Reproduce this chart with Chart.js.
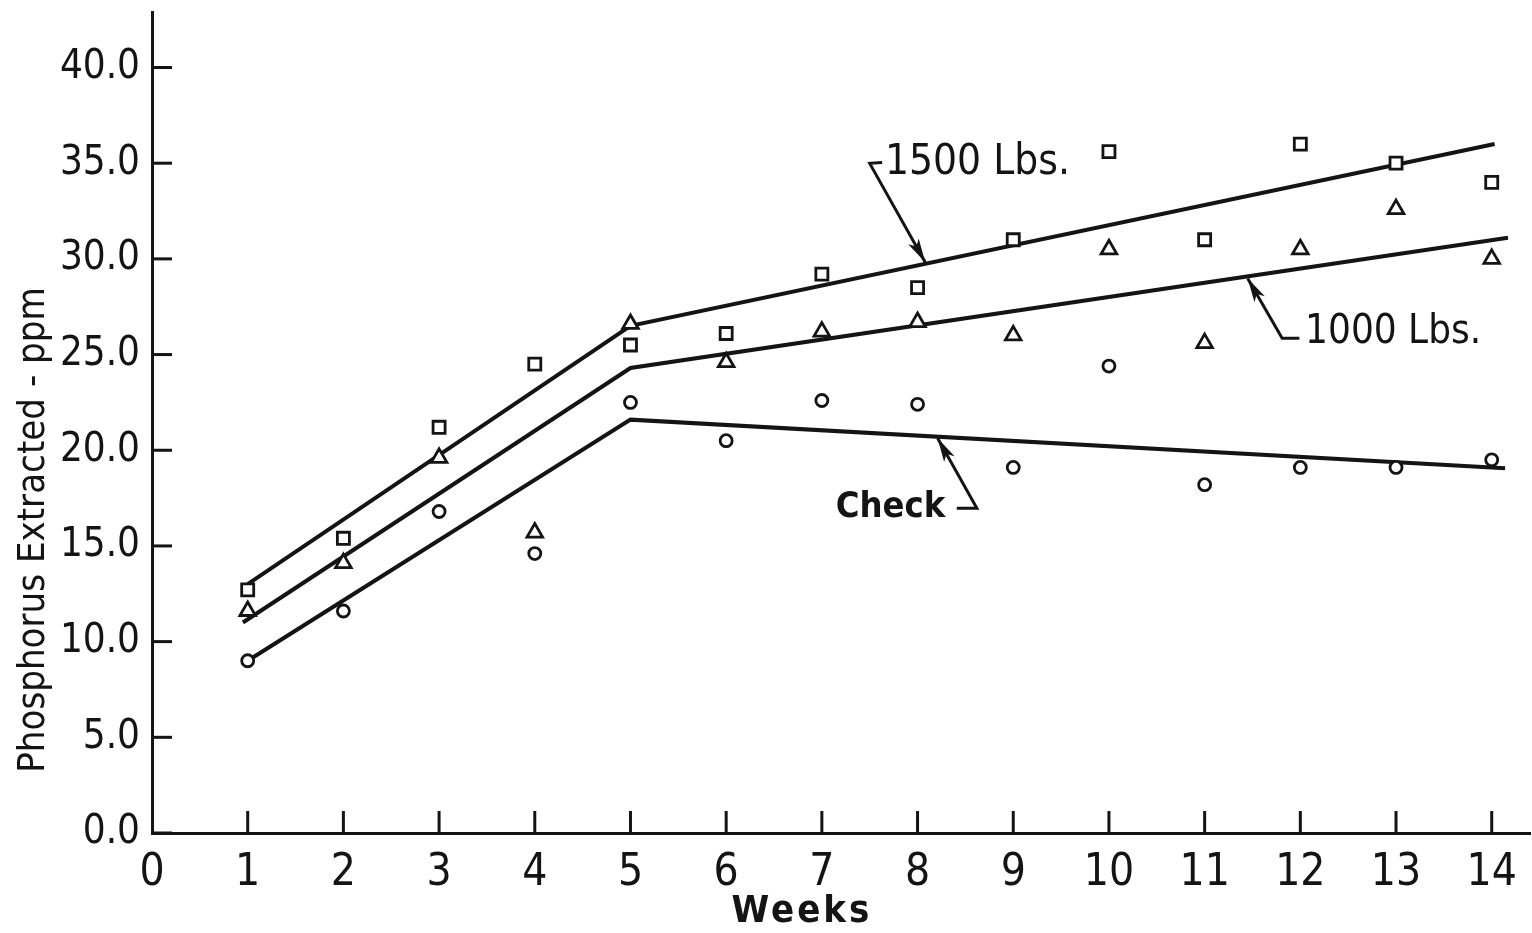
<!DOCTYPE html>
<html>
<head>
<meta charset="utf-8">
<script src="https://cdn.jsdelivr.net/npm/chart.js@4/dist/chart.umd.min.js"></script>
<style>
  html, body { margin: 0; padding: 0; background: #fff; }
  #wrap { width: 1532px; height: 933px; }
</style>
</head>
<body>
<div id="wrap"><canvas id="chart" width="1532" height="933"></canvas></div>
<script>
// observed values (ppm) per week
const weeks = [1, 2, 3, 4, 5, 6, 7, 8, 9, 10, 11, 12, 13, 14];
const lbs1500 = [12.7, 15.4, 21.2, 24.5, 25.5, 26.1, 29.2, 28.5, 31.0, 35.6, 31.0, 36.0, 35.0, 34.0];
const lbs1000 = [11.6, 14.1, 19.6, 15.7, 26.6, 24.6, 26.2, 26.7, 26.0, 30.5, 25.6, 30.5, 32.6, 30.0];
const check = [9.0, 11.6, 16.8, 14.6, 22.5, 20.5, 22.6, 22.4, 19.1, 24.4, 18.2, 19.1, 19.1, 19.5];

// fitted broken lines (start, break at week 5, end)
const fit1500Weeks = [1, 5, 14.03];
const fit1500 = [13.0, 26.5, 36.0];
const fit1000Weeks = [0.95, 5, 14.17];
const fit1000 = [11.0, 24.3, 31.1];
const fitCheckWeeks = [1, 5, 14.14];
const fitCheck = [9.0, 21.6, 19.06];

const yTicks = [0, 5, 10, 15, 20, 25, 30, 35, 40];
const xTicks = [0, 1, 2, 3, 4, 5, 6, 7, 8, 9, 10, 11, 12, 13, 14];

const FONT = '"DejaVu Sans Condensed", "Liberation Sans Narrow", "DejaVu Sans", sans-serif';
const INK = '#141414';

function pts(xs, ys) {
  return xs.map((w, i) => ({ x: w, y: ys[i] }));
}

function markerSet(label, ys, shape, r) {
  return {
    type: 'scatter', label: label, data: pts(weeks, ys),
    pointStyle: shape, pointRadius: r, pointBorderWidth: 2.8,
    pointBackgroundColor: '#fff', pointBorderColor: INK, order: 0
  };
}

function fitSet(label, xs, ys) {
  return {
    type: 'line', label: label, data: pts(xs, ys),
    borderColor: INK, borderWidth: 4, pointRadius: 0, tension: 0, order: 1
  };
}

// leader labels with arrows, in data units
const notes = [
  { text: '1500 Lbs.', at: [7.66, 35.0], align: 'left', size: 42,
    path: [[7.63, 35.04], [7.5, 34.99], [8.08, 29.82]] },
  { text: '1000 Lbs.', at: [12.05, 26.16], align: 'left', size: 40,
    path: [[11.99, 25.85], [11.81, 25.85], [11.45, 28.98]] },
  { text: 'Check', at: [8.29, 17.02], align: 'right', size: 36, bold: true,
    path: [[8.41, 16.97], [8.62, 16.97], [8.21, 20.63]] }
];

const inkPlugin = {
  id: 'ink',
  afterDatasetsDraw(chart) {
    const { ctx, scales: { x, y } } = chart;
    ctx.save();
    ctx.strokeStyle = INK;
    ctx.fillStyle = INK;
    ctx.lineWidth = 3;
    ctx.lineCap = 'butt';

    // inward tick marks
    yTicks.forEach(v => {
      const py = y.getPixelForValue(v);
      ctx.beginPath(); ctx.moveTo(x.left, py); ctx.lineTo(x.left + 20, py); ctx.stroke();
    });
    xTicks.slice(1).forEach(v => {
      const px = x.getPixelForValue(v);
      ctx.beginPath(); ctx.moveTo(px, y.bottom); ctx.lineTo(px, y.bottom - 22); ctx.stroke();
    });

    // annotations
    notes.forEach(n => {
      ctx.font = (n.bold ? 'bold ' : '') + n.size + 'px ' + FONT;
      ctx.textAlign = n.align;
      ctx.textBaseline = 'middle';
      ctx.fillText(n.text, x.getPixelForValue(n.at[0]), y.getPixelForValue(n.at[1]));

      const p = n.path.map(q => [x.getPixelForValue(q[0]), y.getPixelForValue(q[1])]);
      ctx.lineWidth = 3;
      ctx.beginPath();
      ctx.moveTo(p[0][0], p[0][1]);
      for (let i = 1; i < p.length; i++) ctx.lineTo(p[i][0], p[i][1]);
      ctx.stroke();

      const a = p[p.length - 2], b = p[p.length - 1];
      const ang = Math.atan2(b[1] - a[1], b[0] - a[0]);
      const len = 24, half = 6;
      ctx.beginPath();
      ctx.moveTo(b[0], b[1]);
      ctx.lineTo(b[0] - len * Math.cos(ang) + half * Math.sin(ang), b[1] - len * Math.sin(ang) - half * Math.cos(ang));
      ctx.lineTo(b[0] - len * 0.75 * Math.cos(ang), b[1] - len * 0.75 * Math.sin(ang));
      ctx.lineTo(b[0] - len * Math.cos(ang) - half * Math.sin(ang), b[1] - len * Math.sin(ang) + half * Math.cos(ang));
      ctx.closePath();
      ctx.fill();
    });

    // axis titles
    ctx.font = 'bold 38px ' + FONT;
    ctx.textAlign = 'center';
    ctx.textBaseline = 'middle';
    ctx.letterSpacing = '3px';
    ctx.fillText('Weeks', 802, 912);
    ctx.letterSpacing = '0px';

    ctx.font = '38px ' + FONT;
    ctx.translate(34, 530);
    ctx.rotate(-Math.PI / 2);
    ctx.fillText('Phosphorus Extracted - ppm', 0, 0);
    ctx.restore();
  }
};

new Chart(document.getElementById('chart'), {
  data: {
    datasets: [
      markerSet('1500 Lbs. obs', lbs1500, 'rect', 8.5),
      markerSet('1000 Lbs. obs', lbs1000, 'triangle', 9),
      markerSet('Check obs', check, 'circle', 6),
      fitSet('1500 Lbs.', fit1500Weeks, fit1500),
      fitSet('1000 Lbs.', fit1000Weeks, fit1000),
      fitSet('Check', fitCheckWeeks, fitCheck)
    ]
  },
  options: {
    responsive: false,
    animation: false,
    layout: { autoPadding: false, padding: { top: 12, right: 2, left: 0, bottom: 0 } },
    plugins: { legend: { display: false }, tooltip: { enabled: false } },
    scales: {
      x: {
        type: 'linear', min: 0, max: 14.4,
        afterBuildTicks: s => { s.ticks = xTicks.map(v => ({ value: v })); },
        afterFit: s => { s.height = 100; s.paddingLeft = 0; s.paddingRight = 0; },
        grid: { display: false },
        border: { display: true, color: INK, width: 3 },
        ticks: { color: INK, padding: 6, maxRotation: 0, font: { family: FONT, size: 44 }, callback: v => String(v) }
      },
      y: {
        type: 'linear', min: 0, max: 42.9,
        afterBuildTicks: s => { s.ticks = yTicks.map(v => ({ value: v })); },
        afterFit: s => { s.width = 152; s.paddingTop = 0; s.paddingBottom = 0; },
        grid: { display: false },
        border: { display: true, color: INK, width: 3 },
        ticks: { color: INK, padding: 4, font: { family: FONT, size: 40 }, callback: v => v.toFixed(1) }
      }
    }
  },
  plugins: [inkPlugin]
});
</script>
</body>
</html>
